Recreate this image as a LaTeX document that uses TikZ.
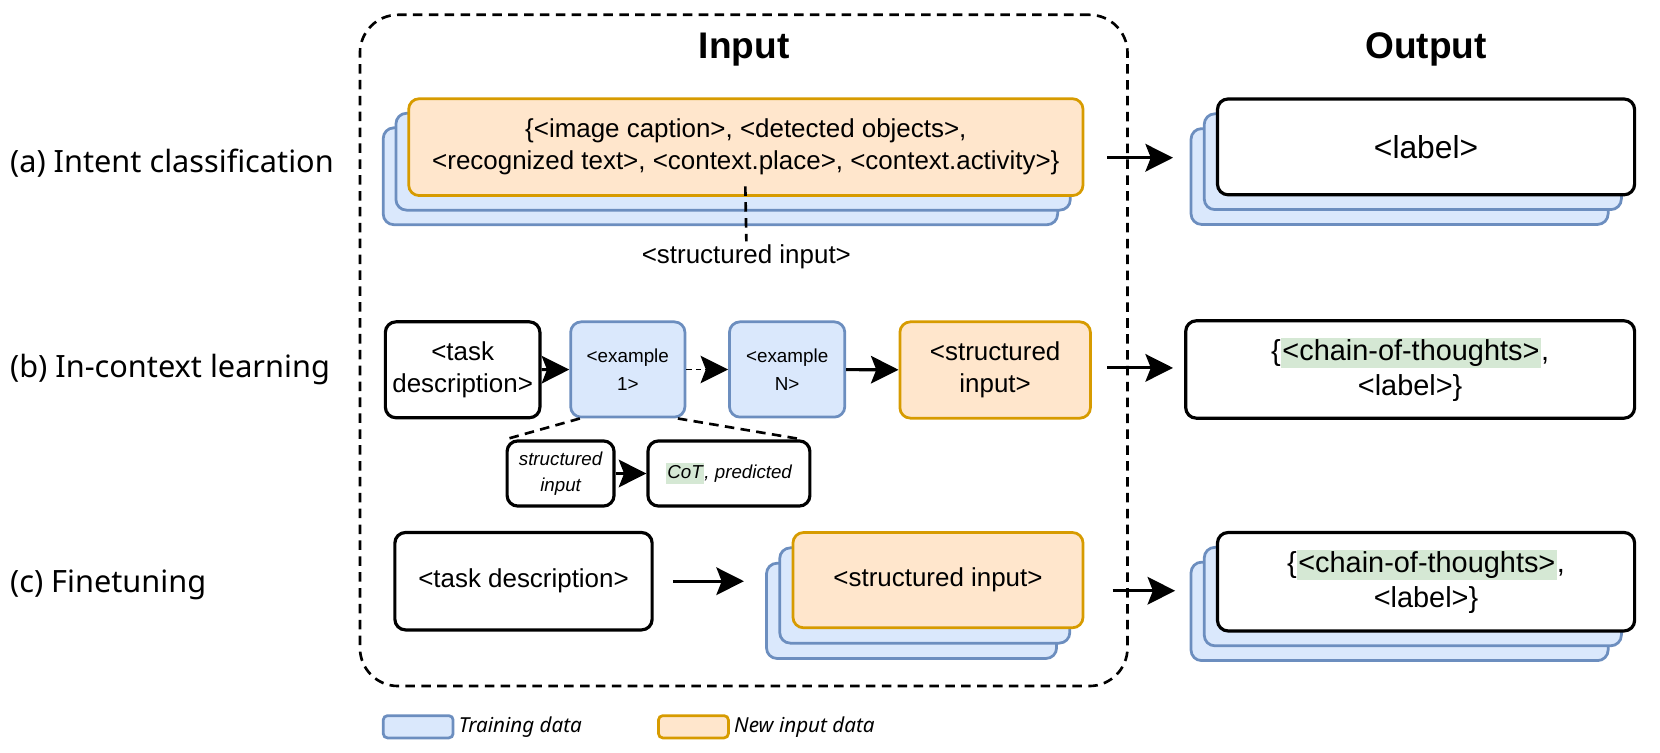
\documentclass[tikz,border=0pt]{standalone}
\usepackage{fontspec}
\setmainfont{Liberation Sans}
\newfontfamily\rowfont{Noto Sans}
\usetikzlibrary{arrows.meta}
\definecolor{trainfill}{HTML}{DAE8FC}
\definecolor{traindraw}{HTML}{6C8EBF}
\definecolor{newfill}{HTML}{FFE6CC}
\definecolor{newdraw}{HTML}{D79B00}
\definecolor{cotfill}{HTML}{D5E8D4}
\newcommand{\cothl}[1]{{\fboxsep=1.5pt\colorbox{cotfill}{\vphantom{Ag}#1}}}
\newcommand{\mainfs}{\fontsize{24.5}{30}\selectfont}

\begin{document}
\begin{tikzpicture}[x=1pt,y=-1pt,
  box/.style={rounded corners=10pt,inner sep=0pt,align=center,font=\mainfs},
  taskbox/.style={box,draw=black,fill=white,line width=3pt},
  trainbox/.style={box,draw=traindraw,fill=trainfill,line width=2.6pt},
  newbox/.style={box,draw=newdraw,fill=newfill,line width=2.6pt},
  conn/.style={line width=3pt,-{Stealth[length=26pt,width=26pt,inset=5pt]}},
  dconn/.style={line width=1.5pt,dash pattern=on 5pt off 4pt,-{Stealth[length=26pt,width=26pt,inset=5pt]}},
  zoomline/.style={line width=2.5pt,dash pattern=on 9pt off 6pt},
  inputframe/.style={draw,line width=2.5pt,dash pattern=on 9pt off 6pt,rounded corners=36pt},
  rowlabel/.style={anchor=west,font=\rowfont\fontsize{29}{34}\selectfont},
  keytext/.style={anchor=west,font=\rowfont\itshape\fontsize{19.5}{24}\selectfont}]
\useasboundingbox (0,0) rectangle (1568,711);

\node [inputframe,minimum width=725pt,minimum height=634pt] (inFrame) at (702.5,331) {};
\node [font=\bfseries\fontsize{35}{40}\selectfont] (inHead) at (703,47) {Input};
\node [font=\bfseries\fontsize{35}{40}\selectfont] (outHead) at (1347,47) {Output};

\node [rowlabel] (labA) at (6,154) {(a) Intent classification};
\node [rowlabel] (labB) at (6,349) {(b) In-context learning};
\node [rowlabel] (labC) at (6,552) {(c) Finetuning};

\node [trainbox,minimum width=637pt,minimum height=91.5pt] (backA) at (680.5,166.5) {};
\node [trainbox,minimum width=637pt,minimum height=91.5pt] (midA) at (692.5,152.75) {};
\node [newbox,minimum width=637pt,minimum height=91.5pt] (inA) at (704.5,139) {\{<image caption>, <detected objects>,\\<recognized text>, <context.place>, <context.activity>\}};
\coordinate (dA) at (704,176);
\node [font=\mainfs] (sInLbl) at (705,243) {<structured input>};
\draw [zoomline] (dA) -- (sInLbl.north);

\node [trainbox,minimum width=394pt,minimum height=90.5pt] (backOA) at (1322,166.75) {};
\node [trainbox,minimum width=394pt,minimum height=90.5pt] (midOA) at (1334.5,152.75) {};
\node [taskbox,minimum width=394pt,minimum height=90.5pt,font=\fontsize{30}{36}\selectfont] (outA) at (1347,138.75) {<label>};
\coordinate (aS) at (1046,149);
\coordinate (aE) at (1108,149);
\draw [conn] (aS) -- (aE);

\node [taskbox,minimum width=146pt,minimum height=90.6pt] (taskB) at (437,349.3) {<task\\description>};
\node [trainbox,minimum width=108pt,minimum height=90pt,font=\fontsize{17.8}{26}\selectfont] (ex1) at (593,349) {<example\\1>};
\node [trainbox,minimum width=109pt,minimum height=90pt,font=\fontsize{17.8}{26}\selectfont] (exN) at (743.5,349) {<example\\N>};
\node [newbox,minimum width=180pt,minimum height=91pt] (structB) at (940,349.5) {<structured\\input>};
\node [taskbox,minimum width=424pt,minimum height=92pt,font=\fontsize{27.3}{33}\selectfont] (outB) at (1332,349) {\{\cothl{<chain-of-thoughts>},\\<label>\}};
\draw [conn] (taskB) -- (ex1);
\draw [dconn] (ex1) -- (exN);
\draw [conn] (exN) -- (structB);
\coordinate (bS) at (1046,347.5);
\coordinate (bE) at (1108,347.5);
\draw [conn] (bS) -- (bE);

\node [taskbox,minimum width=101pt,minimum height=61.5pt,font=\itshape\fontsize{17.7}{25}\selectfont] (sInB) at (529.5,447.25) {structured\\input};
\node [taskbox,minimum width=153pt,minimum height=61.5pt,font=\itshape\fontsize{17.7}{25}\selectfont] (cotB) at (688.5,447.25) {\cothl{CoT}, predicted};
\draw [conn] (sInB) -- (cotB);
\draw [zoomline] ([xshift=10pt]ex1.south west) -- (sInB.north west);
\draw [zoomline] ([xshift=-8pt]ex1.south east) -- ([xshift=-9pt]cotB.north east);

\node [taskbox,minimum width=243pt,minimum height=92pt] (taskC) at (494.5,549) {<task description>};
\node [trainbox,minimum width=274pt,minimum height=90pt] (backC) at (861,577) {};
\node [trainbox,minimum width=274pt,minimum height=90pt] (midC) at (873.5,562.5) {};
\node [newbox,minimum width=274pt,minimum height=90pt] (inC) at (886,548) {<structured input>};
\draw [conn,shorten <=18pt,shorten >=20pt] (taskC.east) -- (taskC.east -| backC.west);

\node [trainbox,minimum width=394pt,minimum height=93pt] (backOC) at (1322,577.5) {};
\node [trainbox,minimum width=394pt,minimum height=93pt] (midOC) at (1334.5,563.5) {};
\node [taskbox,minimum width=394pt,minimum height=93pt,font=\fontsize{27.3}{33}\selectfont] (outC) at (1347,549.5) {\{\cothl{<chain-of-thoughts>},\\<label>\}};
\coordinate (cS) at (1051,558);
\coordinate (cE) at (1110,558);
\draw [conn] (cS) -- (cE);

\node [trainbox,rounded corners=4pt,minimum width=66pt,minimum height=21pt] (trainKey) at (395,686.5) {};
\node [keytext] (trainTxt) at (430,687) {Training data};
\node [newbox,rounded corners=4pt,minimum width=66pt,minimum height=21pt] (newKey) at (655,686.5) {};
\node [keytext] (newTxt) at (690,687) {New input data};
\end{tikzpicture}
\end{document}
